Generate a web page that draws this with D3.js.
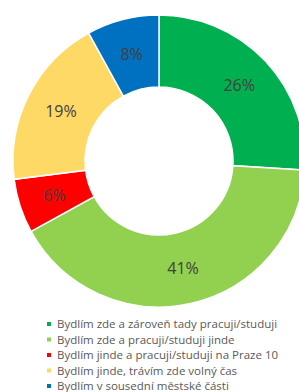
<!DOCTYPE html>
<html>
<head>
<meta charset="utf-8">
<script src="https://cdn.jsdelivr.net/npm/d3@7"></script>
<style>
  body { margin: 0; background: #fff; }
  svg { display: block; }
</style>
</head>
<body>
<div id="chart-area"></div>
<script>
// Data
var categories = [
  'Bydlím zde a zároveň tady pracuji/studuji',
  'Bydlím zde a pracuji/studuji jinde',
  'Bydlím jinde a pracuji/studuji na Praze 10',
  'Bydlím jinde, trávím zde volný čas',
  'Bydlím v sousední městské části'
];
var values = [26, 41, 6, 19, 8];
var colors = ['#00B050', '#92D050', '#FF0000', '#FFD966', '#0070C0'];

var width = 299, height = 392;
var cx = 159, cy = 161;
var outerR = 146, innerR = 74;

var svg = d3.select('#chart-area')
  .append('svg')
    .attr('width', width)
    .attr('height', height);

var g = svg.append('g')
  .attr('transform', 'translate(' + cx + ',' + cy + ')');

var pie = d3.pie().sort(null).value(function(d) { return d; });
var arc = d3.arc().innerRadius(innerR).outerRadius(outerR);
var labelArc = d3.arc().innerRadius((innerR + outerR) / 2).outerRadius((innerR + outerR) / 2);

var arcs = pie(values);

g.selectAll('path')
  .data(arcs)
  .enter()
  .append('path')
    .attr('d', arc)
    .attr('fill', function(d, i) { return colors[i]; })
    .attr('stroke', '#fff')
    .attr('stroke-width', 1.5);

g.selectAll('text.label')
  .data(arcs)
  .enter()
  .append('text')
    .attr('class', 'label')
    .attr('transform', function(d) { return 'translate(' + labelArc.centroid(d) + ')'; })
    .attr('text-anchor', 'middle')
    .attr('dy', '0.35em')
    .attr('font-family', 'Open Sans, sans-serif')
    .attr('font-size', '16px')
    .attr('fill', '#404040')
    .text(function(d) { return d.data + '%'; });

// Legend
var legend = svg.append('g')
  .attr('transform', 'translate(47, 324)');

var rows = legend.selectAll('g')
  .data(categories)
  .enter()
  .append('g')
    .attr('transform', function(d, i) { return 'translate(0,' + (i * 15.5) + ')'; });

rows.append('rect')
  .attr('x', 0)
  .attr('y', -2)
  .attr('width', 4)
  .attr('height', 4)
  .attr('fill', function(d, i) { return colors[i]; });

rows.append('text')
  .attr('x', 10)
  .attr('dy', '0.35em')
  .attr('font-family', 'Open Sans, sans-serif')
  .attr('font-size', '11.5px')
  .attr('fill', '#595959')
  .text(function(d) { return d; });
</script>
</body>
</html>
